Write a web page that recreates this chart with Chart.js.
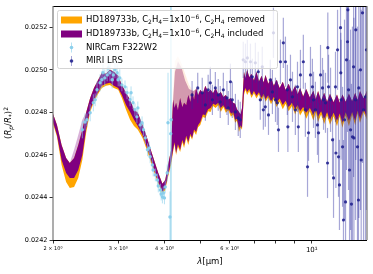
<!DOCTYPE html>
<html lang="en">
<head>
  <meta charset="UTF-8" />
  <title>HD189733b transmission spectrum</title>
  <script src="https://cdn.jsdelivr.net/npm/chart.js"></script>
  <style>
    html, body { margin: 0; padding: 0; background: #fff; }
    #wrap { width: 373px; height: 274px; }
  </style>
</head>
<body>
  <div id="wrap"><canvas id="spec"></canvas></div>

  <script>
    const FONT = '"DejaVu Sans", sans-serif';

    // model spectra (purple = C2H4 included, orange = C2H4 removed)
    const modelWave = [
      2.00, 2.05, 2.11, 2.17, 2.22, 2.28, 2.34, 2.40, 2.46, 2.52,
      2.58, 2.65, 2.71, 2.78, 2.85, 2.92, 3.00, 3.07, 3.15, 3.23,
      3.31, 3.39, 3.49, 3.57, 3.66, 3.75, 3.85, 3.95, 4.02, 4.09,
      4.17,
      4.22, 4.26, 4.30, 4.35, 4.41, 4.47, 4.52, 4.58, 4.64, 4.70,
      4.75, 4.81,
      4.87, 4.93, 5.00, 5.08, 5.16, 5.25, 5.33, 5.41, 5.50, 5.59,
      5.68, 5.77, 5.86, 5.95, 6.05, 6.13, 6.21, 6.28, 6.36, 6.42,
      6.48, 6.56, 6.62, 6.69, 6.78, 6.87, 6.98, 7.09, 7.20, 7.32,
      7.41, 7.50, 7.63, 7.76, 7.90, 8.03, 8.19, 8.35, 8.50, 8.66,
      8.84, 9.02, 9.16, 9.30, 9.48, 9.66, 9.88, 10.1, 10.25, 10.4,
      10.6, 10.8, 11.0, 11.2, 11.45, 11.7, 11.9, 12.1, 12.35, 12.6,
      12.85, 13.1, 13.3, 13.5, 13.8, 14.1
    ];
    const purpleHigh = [
      0.024793, 0.024741, 0.024647, 0.024586, 0.024562, 0.024586, 0.024647, 0.024718, 0.024802, 0.024868,
      0.024915, 0.024953, 0.024986, 0.024981, 0.025000, 0.024991, 0.024972, 0.024929, 0.024892, 0.024859,
      0.024812, 0.024798, 0.024741, 0.024694, 0.024633, 0.024576, 0.024515, 0.024464, 0.024482, 0.024553,
      0.024624,
      0.024859, 0.024820, 0.024845, 0.024810, 0.024868, 0.024825, 0.024845, 0.024835, 0.024882, 0.024850,
      0.024896, 0.024860,
      0.024915, 0.024880, 0.024906, 0.024890, 0.024925, 0.024895, 0.024906, 0.024890, 0.024915, 0.024885,
      0.024896, 0.024872, 0.024882, 0.024860, 0.024868, 0.024845, 0.024840, 0.024815, 0.024802, 0.024790,
      0.024821, 0.024991, 0.024960, 0.025000, 0.024965, 0.024981, 0.024950, 0.024991, 0.024945, 0.024972,
      0.024940, 0.024976, 0.024935, 0.024962, 0.024925, 0.024953, 0.024915, 0.024944, 0.024905, 0.024934,
      0.024895, 0.024925, 0.024885, 0.024915, 0.024875, 0.024910, 0.024870, 0.024902, 0.024862, 0.024900,
      0.024855, 0.024892, 0.024850, 0.024888, 0.024848, 0.024884, 0.024845, 0.024884, 0.024850, 0.024888,
      0.024852, 0.024892, 0.024858, 0.024900, 0.024865, 0.024902
    ];
    const purpleLow = [
      0.024755, 0.024694, 0.024576, 0.024515, 0.024492, 0.024492, 0.024529, 0.024600, 0.024727, 0.024812,
      0.024859, 0.024896, 0.024925, 0.024934, 0.024939, 0.024925, 0.024915, 0.024882, 0.024835, 0.024802,
      0.024765, 0.024736, 0.024694, 0.024647, 0.024591, 0.024529, 0.024473, 0.024426, 0.024445, 0.024506,
      0.024567,
      0.024624, 0.024660, 0.024609, 0.024650, 0.024624, 0.024670, 0.024647, 0.024690, 0.024661, 0.024700,
      0.024680, 0.024720,
      0.024708, 0.024740, 0.024755, 0.024790, 0.024788, 0.024815, 0.024821, 0.024840, 0.024835, 0.024845,
      0.024821, 0.024835, 0.024812, 0.024820, 0.024793, 0.024800, 0.024765, 0.024770, 0.024727, 0.024740,
      0.024727, 0.024896, 0.024915, 0.024896, 0.024910, 0.024882, 0.024900, 0.024878, 0.024895, 0.024868,
      0.024888, 0.024862, 0.024880, 0.024852, 0.024872, 0.024845, 0.024865, 0.024835, 0.024855, 0.024825,
      0.024845, 0.024815, 0.024835, 0.024805, 0.024825, 0.024798, 0.024820, 0.024790, 0.024815, 0.024780,
      0.024805, 0.024770, 0.024800, 0.024765, 0.024798, 0.024760, 0.024795, 0.024752, 0.024800, 0.024760,
      0.024802, 0.024760, 0.024808, 0.024770, 0.024815, 0.024778
    ];
    const orangeLow = [
      0.024746, 0.024685, 0.024553, 0.024473, 0.024445, 0.024449, 0.024492, 0.024576, 0.024708, 0.024802,
      0.024849, 0.024887, 0.024915, 0.024925, 0.024929, 0.024915, 0.024906, 0.024868, 0.024812, 0.024765,
      0.024736, 0.024718, 0.024680, 0.024633, 0.024576, 0.024520, 0.024464, 0.024416, 0.024435, 0.024496,
      0.024553,
      0.024614, 0.024650, 0.024600, 0.024640, 0.024614, 0.024660, 0.024633, 0.024680, 0.024647, 0.024690,
      0.024671, 0.024710,
      0.024694, 0.024730, 0.024741, 0.024778, 0.024774, 0.024805, 0.024802, 0.024830, 0.024821, 0.024835,
      0.024802, 0.024825, 0.024798, 0.024810, 0.024779, 0.024790, 0.024751, 0.024760, 0.024708, 0.024730,
      0.024718, 0.024882, 0.024905, 0.024882, 0.024900, 0.024868, 0.024890, 0.024865, 0.024885, 0.024855,
      0.024878, 0.024850, 0.024870, 0.024838, 0.024862, 0.024825, 0.024850, 0.024815, 0.024840, 0.024805,
      0.024830, 0.024790, 0.024820, 0.024785, 0.024810, 0.024770, 0.024805, 0.024762, 0.024800, 0.024755,
      0.024790, 0.024745, 0.024785, 0.024742, 0.024782, 0.024735, 0.024780, 0.024728, 0.024785, 0.024735,
      0.024788, 0.024740, 0.024795, 0.024750, 0.024800, 0.024765
    ];

    // fainter model spread on the 2.3 um slope and in the 4.3 um band
    const slopeWave = [2.22, 2.28, 2.34, 2.40, 2.46];
    const slopeHigh = [0.024562, 0.024624, 0.024694, 0.024765, 0.024802];
    const slopeLow  = [0.024562, 0.024586, 0.024647, 0.024718, 0.024802];

    const bandWave  = [4.15, 4.20, 4.27, 4.35, 4.45, 4.55, 4.66, 4.78, 4.90];
    const bandLow   = [0.024600, 0.024760, 0.024820, 0.024810, 0.024825, 0.024835, 0.024850, 0.024860, 0.024880];
    const pinkHigh  = [0.024600, 0.024800, 0.024990, 0.025040, 0.025010, 0.024950, 0.024910, 0.024900, 0.024910];
    const peachHigh = [0.024600, 0.024820, 0.025040, 0.025065, 0.025030, 0.024980, 0.024930, 0.024900, 0.024910];

    // NIRCam F322W2
    const nircamWave = [
      2.40, 2.44, 2.47, 2.52, 2.57, 2.60, 2.63, 2.68, 2.71, 2.73,
      2.76, 2.80, 2.82, 2.85, 2.89, 2.91, 2.94, 2.98, 3.00, 3.03,
      3.07, 3.13, 3.17, 3.23, 3.25, 3.29, 3.33, 3.37, 3.39, 3.44,
      3.48, 3.51, 3.55, 3.60, 3.64, 3.66, 3.71, 3.73, 3.78, 3.83,
      3.85, 3.90, 3.92, 3.95, 3.97, 4.00, 4.02, 4.07, 4.09, 4.14,
      4.16, 4.17
    ];
    const nircamDepth = [
      0.024718, 0.024755, 0.024765, 0.024798, 0.024845, 0.024859, 0.024906, 0.024939, 0.024953, 0.024986,
      0.024962, 0.024976, 0.025009, 0.024986, 0.024953, 0.024976, 0.025000, 0.024986, 0.024953, 0.024962,
      0.024929, 0.024920, 0.024892, 0.024859, 0.024892, 0.024845, 0.024812, 0.024779, 0.024821, 0.024741,
      0.024751, 0.024718, 0.024680, 0.024624, 0.024633, 0.024591, 0.024553, 0.024529, 0.024506, 0.024482,
      0.024454, 0.024435, 0.024416, 0.024402, 0.024421, 0.024398, 0.024449, 0.024515, 0.024751, 0.024308,
      0.024700, 0.024765
    ];
    const nircamErr = [
      0.00004, 0.00004, 0.00003, 0.00004, 0.00004, 0.00003, 0.00004, 0.00004, 0.00004, 0.00004,
      0.00004, 0.00003, 0.00004, 0.00004, 0.00004, 0.00003, 0.00004, 0.00004, 0.00003, 0.00004,
      0.00003, 0.00003, 0.00003, 0.00003, 0.00003, 0.00003, 0.00003, 0.00003, 0.00003, 0.00003,
      0.00003, 0.00003, 0.00003, 0.00003, 0.00003, 0.00003, 0.00003, 0.00003, 0.00003, 0.00003,
      0.00003, 0.00003, 0.00003, 0.00003, 0.00003, 0.00003, 0.00003, 0.00004, 0.000235, 0.00012,
      0.001, 0.001
    ];

    // MIRI LRS
    const miriWave = [
      4.75, 4.92, 5.06, 5.16, 5.25, 5.32, 5.39, 5.49, 5.59, 5.66,
      5.77, 5.90, 5.95, 6.03, 6.10, 6.22, 6.33, 6.41, 6.53, 6.62,
      6.70, 6.83, 6.91, 7.04, 7.17, 7.26, 7.35, 7.40, 7.49, 7.64,
      7.73, 7.83, 7.88, 7.98, 8.07, 8.13, 8.23, 8.38, 8.49, 8.59,
      8.62, 8.76, 8.87, 9.03, 9.15, 9.20, 9.32, 9.49, 9.61, 9.74,
      9.80, 9.92, 10.04, 10.11, 10.23, 10.36, 10.43, 10.56, 10.69, 10.76,
      10.89, 11.03, 11.05, 11.10, 11.24, 11.38, 11.45, 11.59, 11.62, 11.74,
      11.81, 11.96, 11.98, 12.11, 12.18, 12.34, 12.49, 12.52, 12.57, 12.73,
      12.88, 12.97, 13.13, 13.29, 13.37, 13.40, 13.54, 13.71, 13.97,
      11.88, 12.00, 12.26, 12.41, 12.65, 12.80, 13.00, 13.15, 13.60, 13.80, 14.05
    ];
    const miriDepth = [
      0.024882, 0.024915, 0.024892, 0.024835, 0.024906, 0.024939, 0.024859, 0.024915, 0.024882, 0.024849,
      0.024906, 0.024868, 0.024821, 0.024944, 0.024859, 0.024802, 0.024774, 0.024765, 0.025047, 0.025038,
      0.025056, 0.025038, 0.024967, 0.025033, 0.024991, 0.024859, 0.025014, 0.024812, 0.024826, 0.024788,
      0.024953, 0.024896, 0.025174, 0.024859, 0.024845, 0.024718, 0.025038, 0.025127, 0.025038, 0.024906,
      0.024732, 0.024953, 0.024873, 0.024812, 0.024920, 0.024732, 0.024976, 0.025038, 0.024812, 0.024544,
      0.024704, 0.024976, 0.024920, 0.024859, 0.024812, 0.024741, 0.024704, 0.024976, 0.024915, 0.024859,
      0.024845, 0.024562, 0.025104, 0.024920, 0.024859, 0.024671, 0.024492, 0.024920, 0.024609, 0.025094,
      0.024591, 0.025198, 0.024986, 0.024638, 0.024294, 0.024379, 0.025132, 0.025282, 0.024906, 0.024718,
      0.024685, 0.025014, 0.024859, 0.024638, 0.024388, 0.024915, 0.025000, 0.025268, 0.024873,
      0.024459, 0.024859, 0.024765, 0.025047, 0.024529, 0.024369, 0.024680, 0.025188, 0.024576, 0.024812, 0.025094
    ];
    const miriErr = [
      0.000066, 0.000071, 0.000071, 0.000075, 0.000071, 0.000075, 0.000071, 0.000075, 0.000075, 0.000075,
      0.000080, 0.000080, 0.000080, 0.000085, 0.000085, 0.000085, 0.000085, 0.000085, 0.000085, 0.000085,
      0.000085, 0.000085, 0.000085, 0.000094, 0.000094, 0.000094, 0.000094, 0.000094, 0.000094, 0.000094,
      0.000094, 0.000104, 0.000118, 0.000104, 0.000104, 0.000104, 0.000104, 0.000118, 0.000118, 0.000118,
      0.000118, 0.000118, 0.000118, 0.000118, 0.000118, 0.000118, 0.000118, 0.000127, 0.000127, 0.000141,
      0.000132, 0.000132, 0.000132, 0.000132, 0.000132, 0.000141, 0.000141, 0.000141, 0.000141, 0.000141,
      0.000141, 0.000165, 0.000165, 0.000151, 0.000151, 0.000165, 0.000188, 0.000165, 0.000165, 0.000188,
      0.000188, 0.000212, 0.000188, 0.000282, 0.000376, 0.000424, 0.000424, 0.000471, 0.000471, 0.000471,
      0.000518, 0.000518, 0.000565, 0.000565, 0.000612, 0.000612, 0.000659, 0.000706, 0.000706,
      0.000212, 0.000282, 0.000471, 0.000518, 0.000518, 0.000565, 0.000565, 0.000612, 0.000706, 0.000753, 0.000753
    ];

    const waveTicks = [2, 3, 4, 5, 6, 7, 8, 9, 10];
    const waveTickLabels = ['2 × 10⁰', '3 × 10⁰', '4 × 10⁰', '', '6 × 10⁰', '', '', '', '10¹'];
    const depthTicks = [0.0242, 0.0244, 0.0246, 0.0248, 0.0250, 0.0252];

    const legendLabels = [
      'HD189733b, C₂H₄=1x10⁻⁶, C₂H₄ removed',
      'HD189733b, C₂H₄=1x10⁻⁶, C₂H₄ included',
      'NIRCam F322W2',
      'MIRI LRS'
    ];

    const ORANGE = '#ffa500';
    const PURPLE = '#800080';
    const NIR_PT = 'rgba(135,206,235,0.95)';
    const NIR_ERR = 'rgba(135,206,235,0.6)';
    const MIRI_PT = 'rgba(28,28,140,0.85)';
    const MIRI_ERR = 'rgba(45,45,160,0.42)';

    const pts = (xs, ys) => xs.map((x, i) => ({ x: x, y: ys[i] }));

    function edge(xs, ys, order) {
      return { data: pts(xs, ys), borderColor: 'rgba(0,0,0,0)', pointRadius: 0, fill: false, order: order };
    }
    function band(xs, ys, color, order) {
      return { data: pts(xs, ys), borderColor: 'rgba(0,0,0,0)', pointRadius: 0,
               fill: '-1', backgroundColor: color, order: order };
    }

    // error bars under each scatter dataset
    const errorBars = {
      id: 'errorBars',
      beforeDatasetDraw(chart, args) {
        const ds = chart.data.datasets[args.index];
        if (!ds.errors) return;
        const { ctx, chartArea: a } = chart;
        const x = chart.scales.x, y = chart.scales.y;
        ctx.save();
        ctx.beginPath();
        ctx.rect(a.left, a.top, a.width, a.height);
        ctx.clip();
        ctx.strokeStyle = ds.errorColor;
        ctx.lineWidth = ds.errorWidth;
        ds.data.forEach((p, i) => {
          const px = x.getPixelForValue(p.x);
          ctx.beginPath();
          ctx.moveTo(px, y.getPixelForValue(p.y - ds.errors[i]));
          ctx.lineTo(px, y.getPixelForValue(p.y + ds.errors[i]));
          ctx.stroke();
        });
        ctx.restore();
      }
    };

    // unicode sub/superscripts -> smaller shifted glyphs, like mathtext
    const SUBS = { '₂': '2', '₄': '4' };
    const SUPS = { '⁻': '−', '⁶': '6' };
    function splitRich(text) {
      const parts = [];
      for (const ch of text) {
        const p = SUBS[ch] ? { t: SUBS[ch], sub: true } : SUPS[ch] ? { t: SUPS[ch], sup: true } : { t: ch };
        const last = parts[parts.length - 1];
        if (last && !!last.sub === !!p.sub && !!last.sup === !!p.sup) last.t += p.t;
        else parts.push(p);
      }
      return parts;
    }

    function richText(ctx, parts, size, x, cy, align) {
      const fontOf = p => (p.it ? 'italic ' : '') + (p.sub || p.sup ? size * 0.7 : size) + 'px ' + FONT;
      let w = 0;
      parts.forEach(p => { ctx.font = fontOf(p); w += ctx.measureText(p.t).width; });
      if (align === 'center') x -= w / 2;
      ctx.textBaseline = 'middle';
      ctx.textAlign = 'left';
      parts.forEach(p => {
        ctx.font = fontOf(p);
        const dy = p.sub ? size * 0.3 : p.sup ? -size * 0.35 : 0;
        ctx.fillText(p.t, x, cy + dy);
        x += ctx.measureText(p.t).width;
      });
    }

    const frame = {
      id: 'frame',
      afterDraw(chart) {
        const { ctx, chartArea: a } = chart;
        ctx.save();
        // spines
        ctx.strokeStyle = '#000';
        ctx.lineWidth = 1;
        ctx.beginPath();
        ctx.moveTo(a.left, a.top + 0.5); ctx.lineTo(a.right, a.top + 0.5);
        ctx.moveTo(a.left, a.bottom + 0.5); ctx.lineTo(a.right, a.bottom + 0.5);
        ctx.stroke();
        ctx.strokeStyle = '#777';
        ctx.lineWidth = 1.2;
        ctx.beginPath();
        ctx.moveTo(a.left, a.top); ctx.lineTo(a.left, a.bottom);
        ctx.moveTo(a.right, a.top); ctx.lineTo(a.right, a.bottom);
        ctx.stroke();

        // legend
        const lx = 57, ly = 10, lw = 220, lh = 58;
        ctx.fillStyle = 'rgba(255,255,255,0.8)';
        ctx.strokeStyle = '#d4d4d4';
        ctx.lineWidth = 1;
        ctx.beginPath();
        ctx.roundRect(lx + 0.5, ly + 0.5, lw, lh, 2);
        ctx.fill();
        ctx.stroke();
        const rows = [20, 34, 47.5, 61];
        ctx.fillStyle = ORANGE;
        ctx.fillRect(61, rows[0] - 3.5, 21, 7);
        ctx.fillStyle = PURPLE;
        ctx.fillRect(61, rows[1] - 3.5, 21, 7);
        [[NIR_ERR, NIR_PT], [MIRI_ERR, MIRI_PT]].forEach((c, k) => {
          const cy = rows[2 + k];
          ctx.strokeStyle = c[0];
          ctx.lineWidth = 1;
          ctx.beginPath();
          ctx.moveTo(71.5, cy - 5); ctx.lineTo(71.5, cy + 5);
          ctx.stroke();
          ctx.fillStyle = c[1];
          ctx.beginPath();
          ctx.arc(71.5, cy, 1.8, 0, Math.PI * 2);
          ctx.fill();
        });
        ctx.fillStyle = '#000';
        legendLabels.forEach((t, i) => richText(ctx, splitRich(t), 8.5, 86, rows[i], 'left'));

        // axis titles
        richText(ctx, [{ t: 'λ', it: true }, { t: '[μm]' }], 8.5, (a.left + a.right) / 2, 262, 'center');
        ctx.translate(9, 123);
        ctx.rotate(-Math.PI / 2);
        richText(ctx, [
          { t: '(' }, { t: 'R', it: true }, { t: 'p', it: true, sub: true }, { t: '/' },
          { t: 'R', it: true }, { t: '*', sub: true }, { t: ')' }, { t: '2', sup: true }
        ], 8.5, 0, 0, 'center');
        ctx.restore();
      }
    };

    new Chart(document.getElementById('spec'), {
      type: 'line',
      data: {
        datasets: [
          edge(modelWave, purpleHigh, 10),
          band(modelWave, orangeLow, ORANGE, 10),
          edge(bandWave, peachHigh, 9),
          band(bandWave, bandLow, 'rgba(255,200,160,0.35)', 9),
          edge(bandWave, pinkHigh, 8),
          band(bandWave, bandLow, 'rgba(150,40,110,0.42)', 8),
          edge(slopeWave, slopeHigh, 8),
          band(slopeWave, slopeLow, 'rgba(128,0,128,0.3)', 8),
          edge(modelWave, purpleHigh, 7),
          band(modelWave, purpleLow, PURPLE, 7),
          {
            data: pts(nircamWave, nircamDepth), showLine: false, order: 2,
            pointRadius: 1.7, pointBorderWidth: 0, pointBackgroundColor: NIR_PT,
            errors: nircamErr, errorColor: NIR_ERR, errorWidth: 1
          },
          {
            data: pts(miriWave, miriDepth), showLine: false, order: 1,
            pointRadius: 1.6, pointBorderWidth: 0, pointBackgroundColor: MIRI_PT,
            errors: miriErr, errorColor: MIRI_ERR, errorWidth: 1.2
          }
        ]
      },
      options: {
        responsive: true,
        maintainAspectRatio: false,
        animation: false,
        devicePixelRatio: 1,
        layout: { padding: { top: 6, right: 6, left: 0, bottom: 0 } },
        elements: { line: { tension: 0 } },
        plugins: { legend: { display: false }, tooltip: { enabled: false } },
        scales: {
          x: {
            type: 'logarithmic', min: 2, max: 14.1,
            border: { display: false },
            grid: { drawOnChartArea: false, tickLength: 3.5, tickColor: '#000', tickWidth: 0.8 },
            afterBuildTicks: s => { s.ticks = waveTicks.map(v => ({ value: v, major: v === 10 })); },
            ticks: {
              autoSkip: false, maxRotation: 0, padding: 2, color: '#000',
              font: c => ({ family: FONT, size: c.tick && c.tick.value === 10 ? 7 : 5 }),
              callback: (v, i) => waveTickLabels[i]
            },
            afterFit: s => { s.height = 34; }
          },
          y: {
            min: 0.0242, max: 0.0253,
            border: { display: false },
            grid: { drawOnChartArea: false, tickLength: 3.5, tickColor: '#000', tickWidth: 0.8 },
            afterBuildTicks: s => { s.ticks = depthTicks.map(v => ({ value: v })); },
            ticks: {
              padding: 2, color: '#000', font: { family: FONT, size: 6.5 },
              callback: v => v.toFixed(4)
            },
            afterFit: s => { s.width = 53; }
          }
        }
      },
      plugins: [errorBars, frame]
    });
  </script>
</body>
</html>
